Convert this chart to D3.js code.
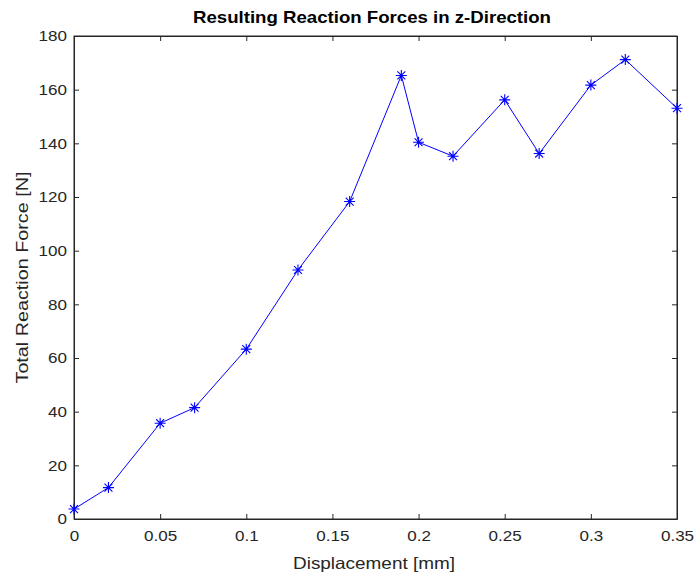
<!DOCTYPE html>
<html>
<head>
<meta charset="utf-8">
<script src="https://cdn.jsdelivr.net/npm/d3@7"></script>
<style>
body{margin:0;background:#fff;}
text{font-family:"Liberation Sans",Arial,sans-serif;}
</style>
</head>
<body>
<svg id="chart" width="694" height="577"></svg>
<script>
// data
var displacement=[0,0.02,0.05,0.07,0.1,0.13,0.16,0.19,0.2,0.22,0.25,0.27,0.3,0.32,0.35];
var force=[3.7,11.7,35.7,41.5,63.3,92.8,118.3,165.3,140.4,135.2,156.2,136.2,161.7,171.2,153.1];
var xTicks=[0,0.05,0.1,0.15,0.2,0.25,0.3,0.35];
var yTicks=[0,20,40,60,80,100,120,140,160,180];

//plot box edges (window.top is taken, so own names)
var boxLeft=74,boxRight=677,boxTop=36,boxBottom=519;
var axisColor="#262626";
var stretch=1.1; //reference glyphs are a bit wider than Liberation Sans

var svg=d3.select("#chart");

var x=d3.scaleLinear().domain([0,0.35]).range([boxLeft,boxRight]);
var y=d3.scaleLinear().domain([0,180]).range([boxBottom,boxTop]);

//box
svg.append("rect")
	.attr("x",boxLeft).attr("y",boxTop)
	.attr("width",boxRight-boxLeft).attr("height",boxBottom-boxTop)
	.style("fill","none").style("stroke",axisColor).style("stroke-width",1);

//bottom and left axes, ticks pointing inward
svg.append("g").attr("transform","translate(0,"+boxBottom+")")
	.call(d3.axisBottom(x).tickValues(xTicks).tickSizeInner(-5).tickSizeOuter(0).tickPadding(11).tickFormat(d3.format("")));
svg.append("g").attr("transform","translate("+boxLeft+",0)")
	.call(d3.axisLeft(y).tickValues(yTicks).tickSizeInner(-5).tickSizeOuter(0).tickPadding(7));

//top and right ticks
svg.append("g").attr("transform","translate(0,"+boxTop+")")
	.call(d3.axisTop(x).tickValues(xTicks).tickSizeInner(-5).tickSizeOuter(0).tickFormat(""));
svg.append("g").attr("transform","translate("+boxRight+",0)")
	.call(d3.axisRight(y).tickValues(yTicks).tickSizeInner(-5).tickSizeOuter(0).tickFormat(""));

svg.selectAll(".domain").style("stroke",axisColor);
svg.selectAll(".tick line").style("stroke",axisColor);
svg.selectAll(".tick text")
	.style("font-size","15.5px")
	.style("fill",axisColor)
	.style("font-family","'Liberation Sans',Arial,sans-serif")
	.each(function(){
		var len=this.getComputedTextLength();
		if(len>0){
			d3.select(this).attr("textLength",len*stretch).attr("lengthAdjust","spacingAndGlyphs");
		}
	});

//line
var line=d3.line()
	.x(function(d,i){return x(displacement[i]);})
	.y(function(d){return y(d);});

svg.append("path")
	.datum(force)
	.attr("d",line)
	.style("fill","none")
	.style("stroke","#0000ff")
	.style("stroke-width",1);

//asterisk markers
var markers=svg.selectAll("g.marker")
	.data(force)
	.enter()
	.append("g")
	.attr("class","marker")
	.attr("transform",function(d,i){return "translate("+x(displacement[i])+","+y(d)+")";});

var s=5.5;
markers.append("path")
	.attr("d","M"+(-s)+",0H"+s+"M0,"+(-s)+"V"+s+"M"+(-s*0.72)+","+(-s*0.72)+"L"+(s*0.72)+","+(s*0.72)+"M"+(-s*0.72)+","+(s*0.72)+"L"+(s*0.72)+","+(-s*0.72))
	.style("fill","none")
	.style("stroke","#0000ff")
	.style("stroke-width",1.1);

//title and labels, widths
svg.append("text")
	.attr("x",372).attr("y",23)
	.attr("text-anchor","middle")
	.attr("textLength",358).attr("lengthAdjust","spacingAndGlyphs")
	.style("font-size","16.5px").style("font-weight","bold")
	.style("fill","#000")
	.text("Resulting Reaction Forces in z-Direction");

svg.append("text")
	.attr("x",374).attr("y",569)
	.attr("text-anchor","middle")
	.attr("textLength",162).attr("lengthAdjust","spacingAndGlyphs")
	.style("font-size","16.5px")
	.style("fill",axisColor)
	.text("Displacement [mm]");

svg.append("text")
	.attr("transform","translate(28,"+((boxTop+boxBottom)/2)+") rotate(-90)")
	.attr("text-anchor","middle")
	.attr("textLength",212).attr("lengthAdjust","spacingAndGlyphs")
	.style("font-size","16.5px")
	.style("fill",axisColor)
	.text("Total Reaction Force [N]");
</script>
</body>
</html>
